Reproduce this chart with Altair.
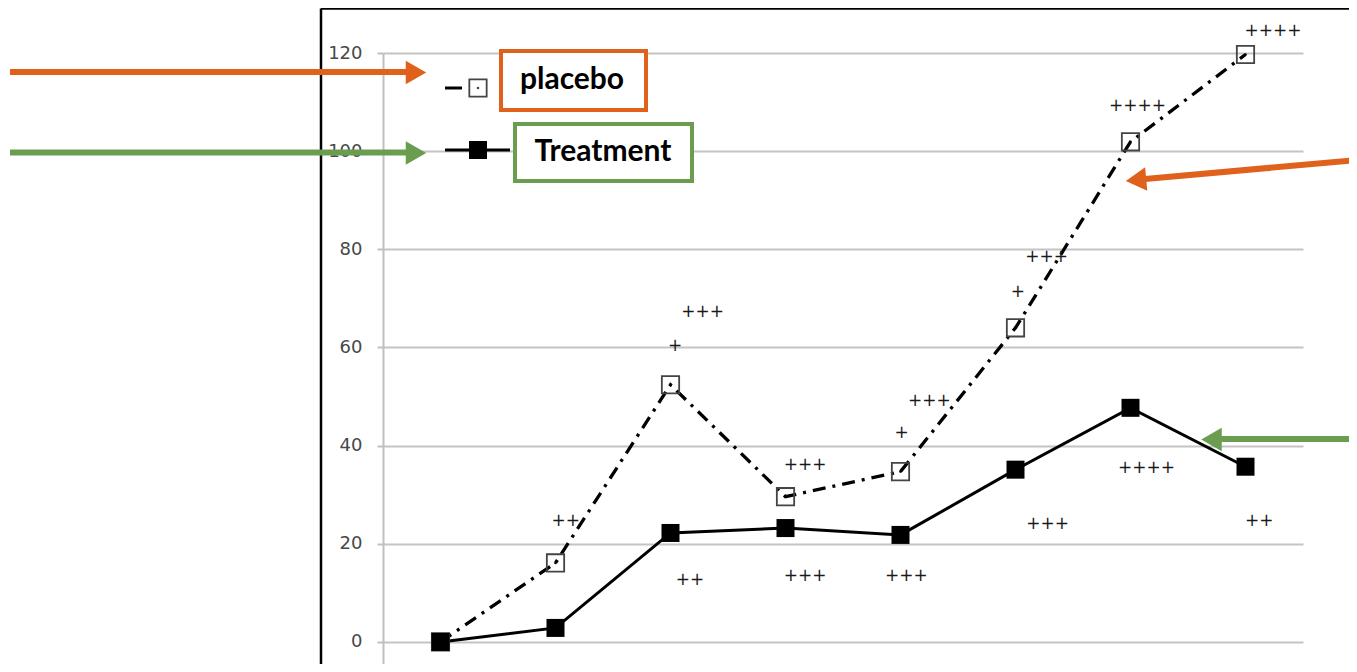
import altair as alt
import pandas as pd

# ---- data ----
idx = [0, 1, 2, 3, 4, 5, 6, 7]
treatment = [0, 2.85, 22.2, 23.2, 21.8, 35.1, 47.7, 35.7]
placebo = [0, 16.1, 52.4, 29.6, 34.7, 64.0, 101.9, 119.7]

ann_text = ["++", "+", "+++", "+++", "+", "+++", "+", "+++", "++++", "++++",
            "++", "+++", "+++", "+++", "++++", "++"]
ann_x = [1.09, 2.04, 2.28, 3.17, 4.01, 4.25, 5.02, 5.27, 6.06, 7.24,
         2.17, 3.17, 4.05, 5.28, 6.14, 7.12]
ann_y = [24.7, 60.3, 67.3, 36.1, 42.6, 49.0, 71.3, 78.5, 109.1, 124.5,
         12.6, 13.5, 13.5, 24.1, 35.5, 24.7]

y_ticks = [0, 20, 40, 60, 80, 100, 120]
legend_labels = ["placebo", "Treatment"]

ORANGE = "#DF611B"
GREEN = "#6A9D4F"

df_t = pd.DataFrame({"i": idx, "v": treatment})
df_p = pd.DataFrame({"i": idx, "v": placebo})
df_a = pd.DataFrame({"i": ann_x, "v": ann_y, "t": ann_text})
one = pd.DataFrame({"k": [0]})

xs = alt.Scale(domain=[-0.5, 7.5], nice=False, zero=False)
ys = alt.Scale(domain=[-4.5, 120], nice=False, zero=False)
X = alt.X("i:Q", scale=xs, axis=None)
Y = alt.Y("v:Q", scale=ys, title=None,
          axis=alt.Axis(values=y_ticks, grid=True, gridColor="#c4c4c4", gridWidth=2,
                        domainColor="#c0c0c0", domainWidth=2, tickColor="#c0c0c0",
                        tickSize=6, tickWidth=2, labelPadding=15, labelFont="DejaVu Sans",
                        labelFontSize=18, labelColor="#484848"))


def rule(x, y, x2, y2, color, w):
    return alt.Chart(one).mark_rule(color=color, strokeWidth=w).encode(
        x=alt.value(x), y=alt.value(y), x2=alt.value(x2), y2=alt.value(y2))


def tri(x, y, shape, color, angle=0, size=560):
    return alt.Chart(one).mark_point(shape=shape, filled=True, color=color, opacity=1,
                                     size=size, angle=angle, strokeWidth=0).encode(
        x=alt.value(x), y=alt.value(y))


base_line_p = alt.Chart(df_p).mark_line(color="black", strokeWidth=3.3,
                                        strokeDash=[13, 7, 3, 7]).encode(x=X, y=Y)
base_line_t = alt.Chart(df_t).mark_line(color="black", strokeWidth=3).encode(x=X, y=Y)
pts_p = alt.Chart(df_p).mark_point(shape="square", size=300, filled=False, color="#444444",
                                   strokeWidth=1.8, opacity=1).encode(x=X, y=Y)
dots_p = alt.Chart(df_p).mark_point(shape="circle", size=7, filled=True, color="black",
                                    opacity=1).encode(x=X, y=Y)
pts_t = alt.Chart(df_t).mark_square(size=324, color="black", opacity=1).encode(x=X, y=Y)
ann = alt.Chart(df_a).mark_text(font="DejaVu Sans", fontSize=17, color="#1a1a1a").encode(
    x=X, y=Y, text="t:N")

# frame of the original figure
frame = [rule(-62, -44.5, 974, -44.5, "black", 2.5), rule(-62, -44.5, -62, 620, "black", 2.5)]

# legend
leg = [
    rule(62, 35, 79, 35, "black", 3),
    alt.Chart(one).mark_point(shape="square", size=300, filled=True, fill="white",
                              stroke="#444444", strokeWidth=1.8, opacity=1).encode(
        x=alt.value(95), y=alt.value(35)),
    alt.Chart(one).mark_point(shape="circle", size=7, filled=True, color="black").encode(
        x=alt.value(95), y=alt.value(35)),
    rule(62, 97, 127, 97, "black", 3),
    alt.Chart(one).mark_square(size=324, color="black", opacity=1).encode(
        x=alt.value(95), y=alt.value(97)),
    alt.Chart(one).mark_rect(fill="white", stroke=ORANGE, strokeWidth=4).encode(
        x=alt.value(118), x2=alt.value(263), y=alt.value(-2), y2=alt.value(57)),
    alt.Chart(one).mark_rect(fill="white", stroke=GREEN, strokeWidth=4).encode(
        x=alt.value(132), x2=alt.value(309), y=alt.value(71), y2=alt.value(128)),
    alt.Chart(one).mark_text(text=legend_labels[0], font="Lato", fontWeight="bold",
                             fontSize=30, color="black").encode(
        x=alt.value(189), y=alt.value(27)),
    alt.Chart(one).mark_text(text=legend_labels[1], font="Lato", fontWeight="bold",
                             fontSize=30, color="black").encode(
        x=alt.value(220), y=alt.value(99)),
]

# arrows
arrows = [
    rule(-373, 19, 24, 19, ORANGE, 6), tri(33, 19.5, "triangle-right", ORANGE),
    rule(-373, 99.5, 24, 99.5, GREEN, 6), tri(33, 100, "triangle-right", GREEN),
    rule(974, 107, 762, 126, ORANGE, 6), tri(753, 127, "triangle-left", ORANGE, angle=354.8),
    rule(974, 386, 837, 386, GREEN, 6), tri(828.5, 386.5, "triangle-left", GREEN),
]

chart = alt.layer(
    base_line_p, base_line_t, pts_p, dots_p, pts_t, ann, *frame, *leg, *arrows
).properties(
    width=920, height=611,
    padding={"left": 375, "top": 45, "right": 46, "bottom": 0},
    autosize=alt.AutoSizeParams(type="none"),
    background="white",
).configure_view(stroke=None)

chart.save("out.html", embed_options={"renderer": "svg", "actions": False})
